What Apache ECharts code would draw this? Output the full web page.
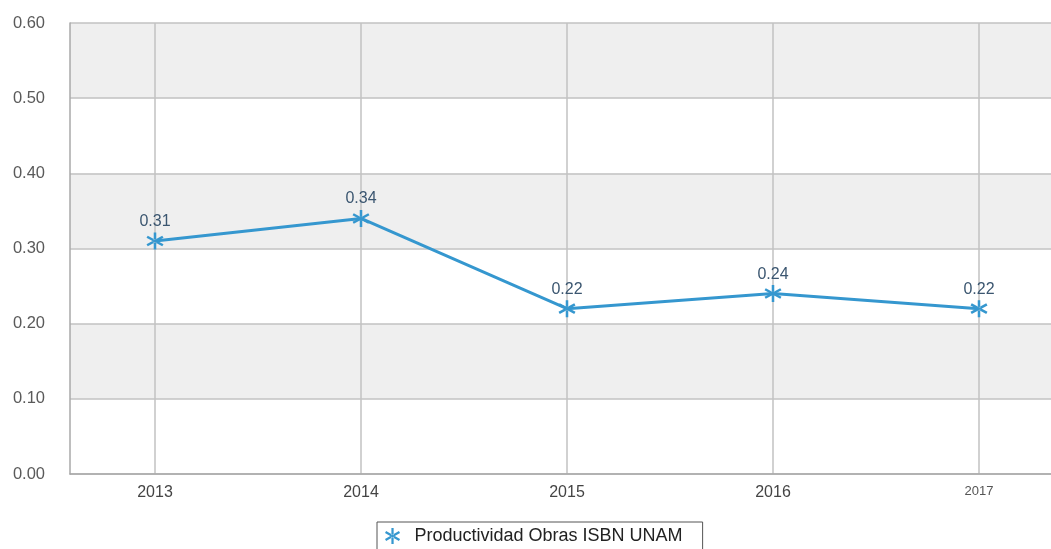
<!DOCTYPE html>
<html>
<head>
<meta charset="utf-8">
<script src="https://cdn.jsdelivr.net/npm/echarts@6/dist/echarts.min.js"></script>
<style>html,body{margin:0;padding:0;background:#fff}#c{width:1051px;height:549px}</style>
</head>
<body>
<div id="c"></div>
<script>
const categories = [2013, 2014, 2015, 2016, 2017];
const values = [0.31, 0.34, 0.22, 0.24, 0.22];
const seriesName = 'Productividad Obras ISBN UNAM';

// six-spoke asterisk (vertical bar + two diagonals)
const star = 'path://M8.6 0L11.4 0L11.4 20L8.6 20Z ' +
  'M18.0 16.2L19.4 13.8L2.0 3.8L0.6 6.2Z ' +
  'M19.4 6.2L18.0 3.8L0.6 13.8L2.0 16.2Z';
const lineColor = '#3597cf';
const font = 'Liberation Sans, Arial, sans-serif';

const chart = echarts.init(document.getElementById('c'));
chart.setOption({
  animation: false,
  grid: { left: 70, right: 0, top: 23, bottom: 75, containLabel: false },
  xAxis: {
    type: 'value',
    min: 2013 - 85 / 206,
    max: 2017 + 72 / 206,
    axisLine: { show: true, lineStyle: { color: '#a8a8a8', width: 1.5 } },
    axisTick: { show: false, customValues: categories },
    axisLabel: {
      customValues: categories,
      color: '#444',
      fontSize: 16,
      fontFamily: font,
      margin: 11,
      formatter: v => (v === 2017 ? '{s|' + v + '}' : String(v)),
      rich: { s: { fontSize: 13, color: '#555', fontFamily: font } }
    },
    splitLine: { show: true, lineStyle: { color: '#c2c2c2', width: 1.5 } }
  },
  yAxis: {
    type: 'value',
    min: 0,
    max: 0.6,
    interval: 0.1,
    axisLine: { show: true, lineStyle: { color: '#a8a8a8', width: 1.5 } },
    axisTick: { show: false },
    axisLabel: {
      color: '#5a5a5a',
      fontSize: 16.5,
      fontFamily: font,
      margin: 25,
      formatter: v => v.toFixed(2)
    },
    splitLine: { show: true, lineStyle: { color: '#c2c2c2', width: 1.5 } },
    splitArea: { show: true, areaStyle: { color: ['#ffffff', '#efefef'] } }
  },
  legend: {
    data: [seriesName],
    left: 377,
    top: 522,
    orient: 'horizontal',
    borderColor: '#555',
    borderWidth: 1,
    padding: [5, 20, 5, 8],
    itemWidth: 22,
    itemHeight: 16,
    icon: star,
    textStyle: { color: '#222', fontSize: 18, fontFamily: font, padding: [0, 0, 0, 6] }
  },
  series: [{
    name: seriesName,
    type: 'line',
    data: categories.map((c, i) => [c, values[i]]),
    lineStyle: { color: lineColor, width: 3 },
    itemStyle: { color: lineColor },
    symbol: star,
    symbolSize: 17,
    label: {
      show: true,
      position: 'top',
      distance: 3,
      color: '#3b5670',
      fontSize: 16,
      fontFamily: font,
      formatter: p => p.value[1].toFixed(2)
    }
  }]
});
</script>
</body>
</html>
